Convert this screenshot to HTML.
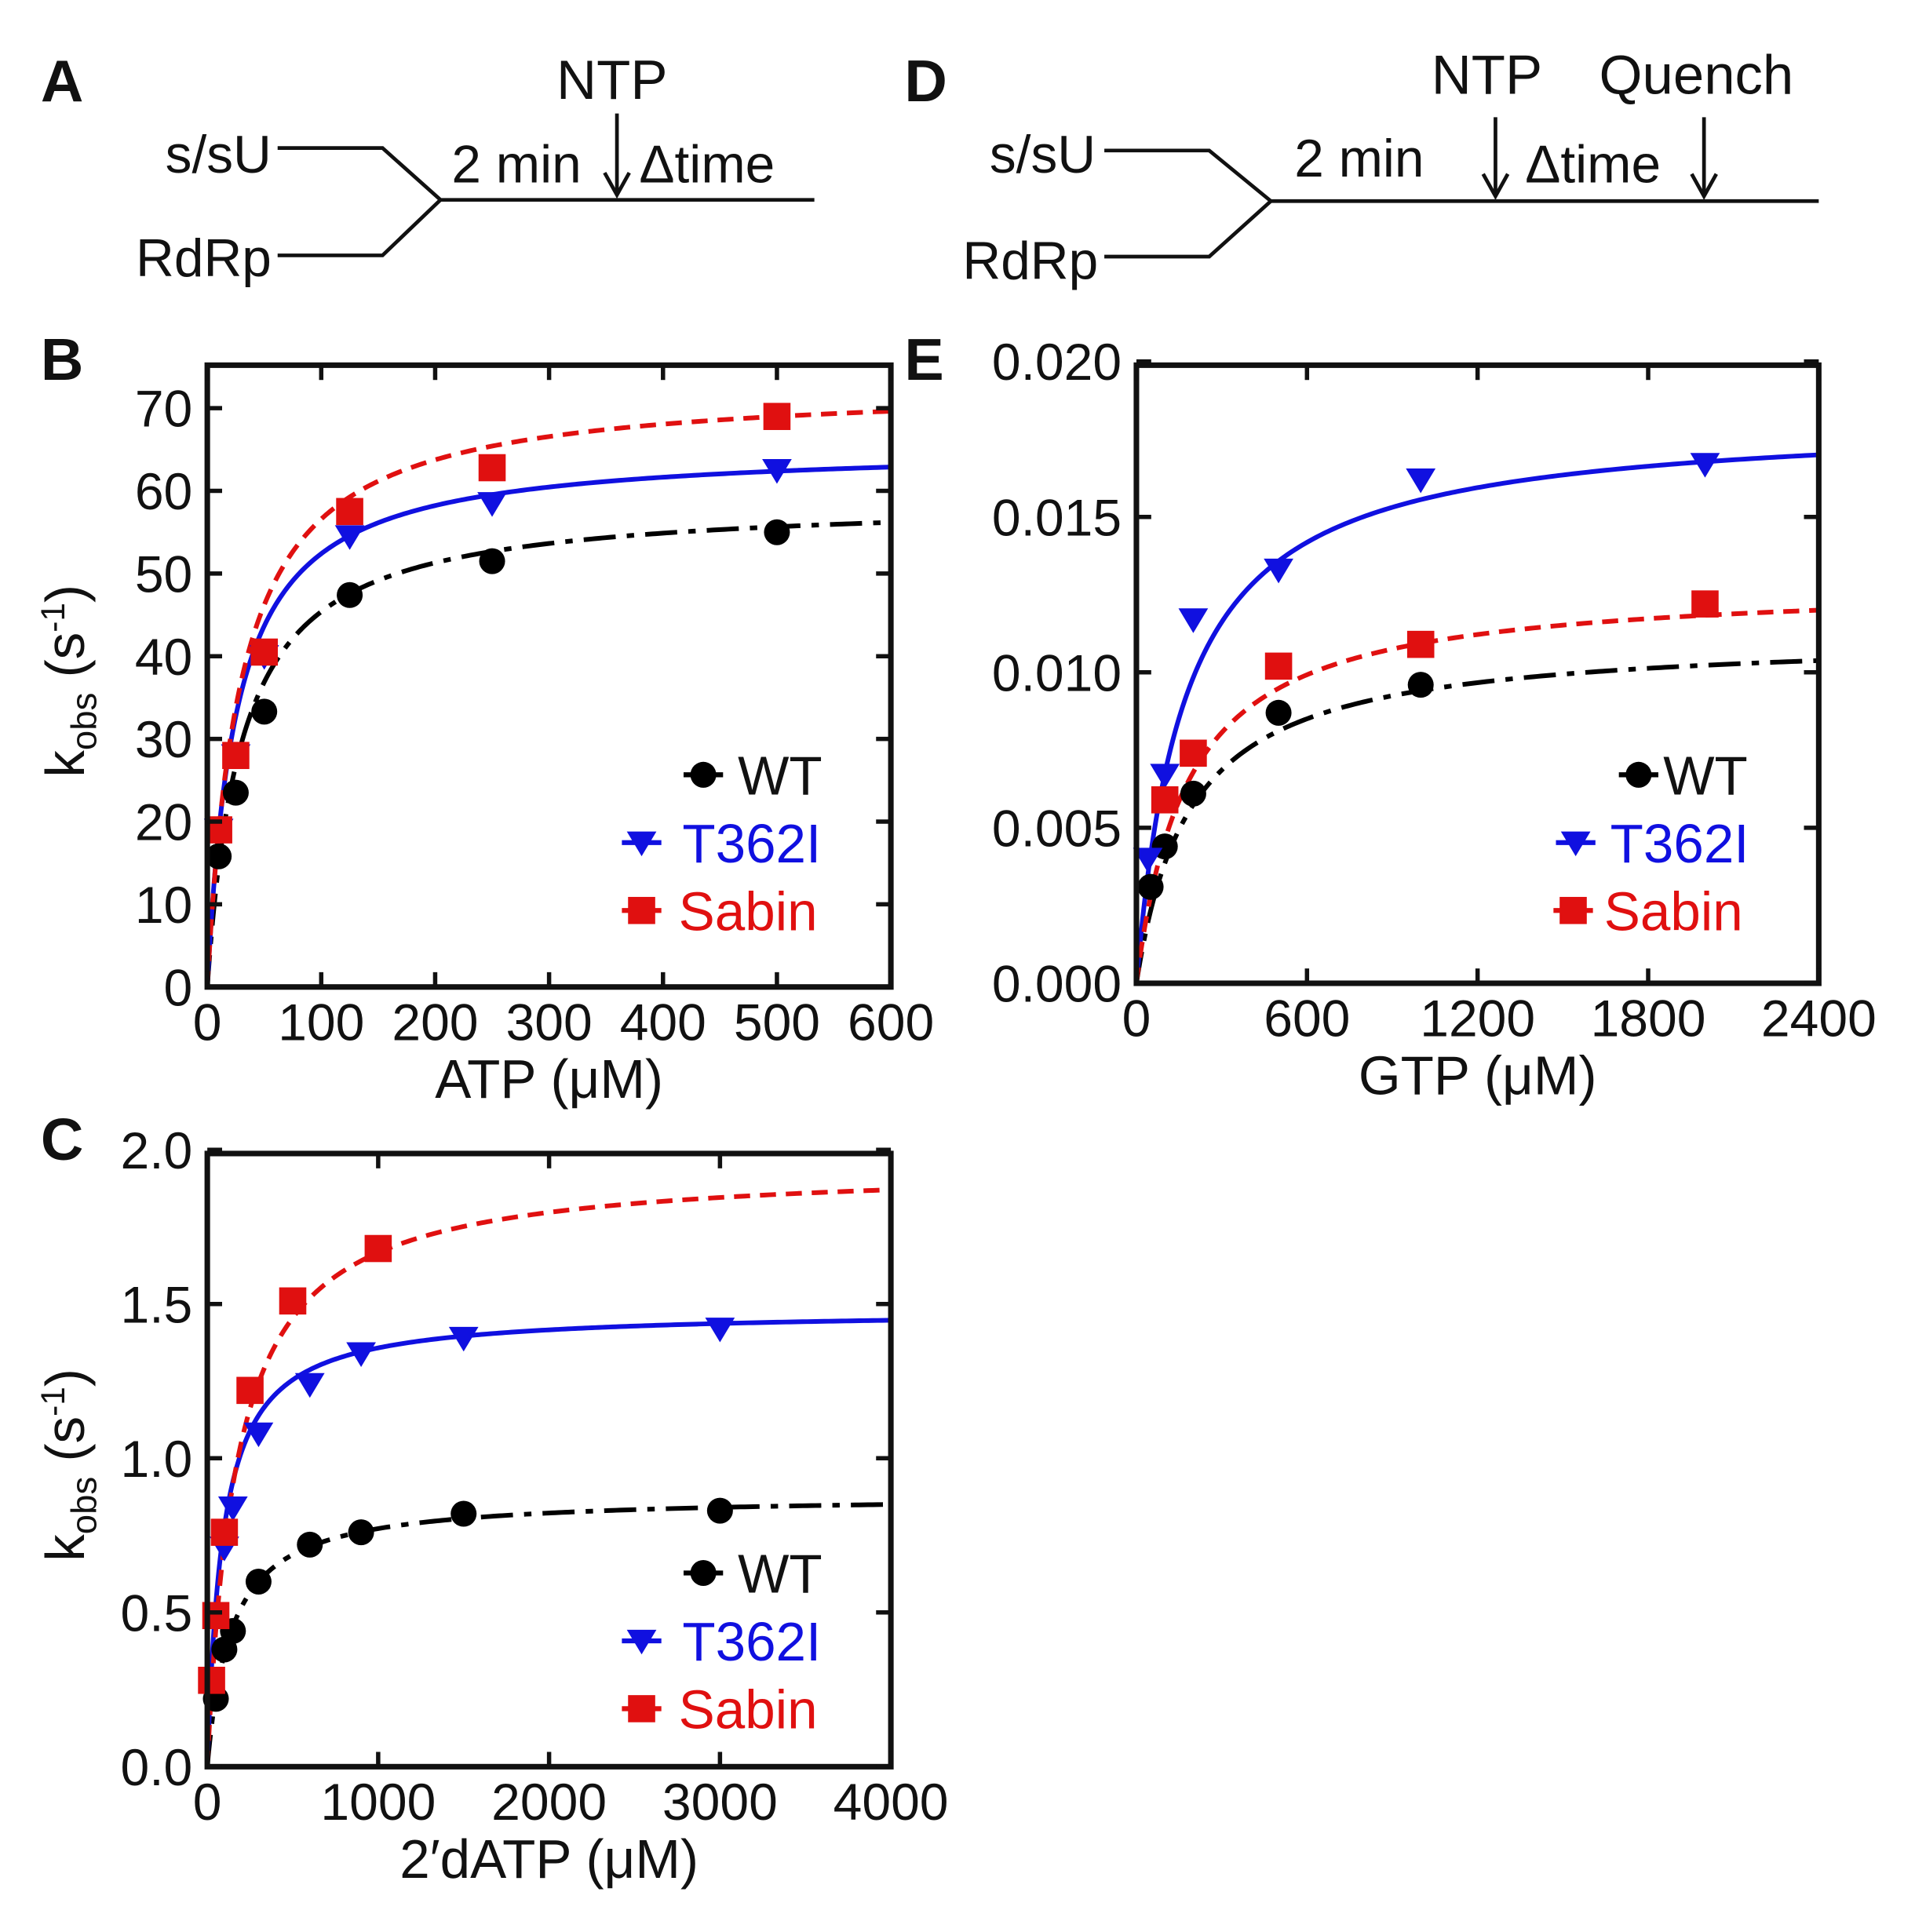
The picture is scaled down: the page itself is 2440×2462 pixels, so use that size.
<!DOCTYPE html>
<html><head><meta charset="utf-8"><style>
html,body{margin:0;padding:0;background:#fff}
svg{display:block}
text{font-family:"Liberation Sans",Arial,sans-serif;fill:#111}
</style></head><body>
<svg id="fig" width="2440" height="2462" viewBox="0 0 1552 1566" xmlns="http://www.w3.org/2000/svg">
<g stroke="#111" stroke-width="3" fill="none">
<polyline points="225,120 310,120 357,162 660,162"/><polyline points="225,207 310,207 357,162"/>
<line x1="500" y1="92" x2="500" y2="158"/><polyline points="490,140 500,158 510,140"/>
</g>
<text x="33" y="82" font-size="48" font-weight="bold">A</text>
<text x="451" y="80" font-size="45">NTP</text>
<text x="220" y="140" font-size="43" text-anchor="end">s/sU</text>
<text x="220" y="224" font-size="43" text-anchor="end">RdRp</text>
<text x="366" y="148" font-size="43">2 min</text>
<text x="518" y="148" font-size="43">Δtime</text>
<g stroke="#111" stroke-width="3" fill="none">
<polyline points="895,122 980,122 1030,163 1474,163"/><polyline points="895,208 980,208 1030,163"/>
<line x1="1212" y1="95" x2="1212" y2="159"/><polyline points="1202,141 1212,159 1222,141"/>
<line x1="1381" y1="95" x2="1381" y2="159"/><polyline points="1371,141 1381,159 1391,141"/>
</g>
<text x="733" y="82" font-size="48" font-weight="bold">D</text>
<text x="1160" y="76" font-size="45">NTP</text>
<text x="1296" y="76" font-size="45">Quench</text>
<text x="888" y="140" font-size="43" text-anchor="end">s/sU</text>
<text x="890" y="226" font-size="43" text-anchor="end">RdRp</text>
<text x="1049" y="143" font-size="43">2 min</text>
<text x="1236" y="148" font-size="43">Δtime</text>
<text x="33" y="308" font-size="48" font-weight="bold">B</text>
<text x="733" y="308" font-size="48" font-weight="bold">E</text>
<text x="33" y="940" font-size="48" font-weight="bold">C</text>
</svg>
<script>
// Panel B (ATP)
const bX = [10, 25, 50, 125, 250, 500];
const bWT = [15.8, 23.5, 33.3, 47.4, 51.5, 55.0];
const bT = [19, 28, 40, 54.5, 58.5, 62.5];
const bS = [19, 28, 40.5, 57.5, 62.8, 69.0];
const bFitKmax = [59, 65.5, 73];
const bFitKd = [30, 25, 29];
const bXTicks = [0, 100, 200, 300, 400, 500, 600];
const bYTicks = [0, 10, 20, 30, 40, 50, 60, 70];
// Panel C (2'dATP)
const cXWT = [50, 100, 150, 300, 600, 900, 1500, 3000];
const cWT = [0.22, 0.38, 0.44, 0.60, 0.72, 0.76, 0.82, 0.83];
const cXT = [100, 150, 300, 600, 900, 1500, 3000];
const cT = [0.71, 0.84, 1.08, 1.24, 1.34, 1.39, 1.42];
const cXS = [25, 50, 100, 250, 500, 1000];
const cS = [0.28, 0.49, 0.76, 1.22, 1.51, 1.68];
const cFitKmax = [0.88, 1.48, 1.95];
const cFitKd = [140, 90, 170];
const cXTicks = [0, 1000, 2000, 3000, 4000];
const cYTicks = [0, 0.5, 1.0, 1.5, 2.0];
// Panel E (GTP)
const eXWT = [50, 100, 200, 500, 1000];
const eWT = [0.0031, 0.0044, 0.0061, 0.0087, 0.0096];
const eXT = [40, 100, 200, 500, 1000, 2000];
const eT = [0.0040, 0.0067, 0.0117, 0.0133, 0.0162, 0.0167];
const eXS = [100, 200, 500, 1000, 2000];
const eS = [0.0059, 0.0074, 0.0102, 0.0109, 0.0122];
const eFitKmax = [0.0112, 0.0182, 0.0129];
const eFitKd = [190, 170, 180];
const eXTicks = [0, 600, 1200, 1800, 2400];
const eYTicks = [0, 0.005, 0.010, 0.015, 0.020];

const NS = 'http://www.w3.org/2000/svg';
const svg = document.getElementById('fig');
function mk(tag, attrs, parent) {
  const e = document.createElementNS(NS, tag);
  for (const k in attrs) e.setAttribute(k, attrs[k]);
  (parent || svg).appendChild(e);
  return e;
}
const COL = ['#000', '#1010e0', '#e01010'];
const DASH = ['26,9,6,9', '', '13,8'];
function marker(g, kind, x, y, col) {
  let m;
  if (kind === 0) m = mk('circle', {cx: x, cy: y, r: 10.5, fill: col}, g);
  else if (kind === 1) m = mk('path', {d: `M${x-12},${y-9} L${x+12},${y-9} L${x},${y+11} Z`, fill: col}, g);
  else m = mk('rect', {x: x-11, y: y-11, width: 22, height: 22, fill: col}, g);
  return m;
}
function panel(p) {
  const g = mk('g', {});
  
  
  const sx = v => p.x0 + (v - p.xmin) / (p.xmax - p.xmin) * (p.x1 - p.x0);
  const sy = v => p.y1 - (v - p.ymin) / (p.ymax - p.ymin) * (p.y1 - p.y0);
  for (let s = 0; s < 3; s++) {
    let d = '';
    for (let i = 0; i <= 300; i++) {
      const xv = p.xmin + (p.xmax - p.xmin) * Math.pow(i / 300, 2);
      const yv = p.kmax[s] * xv / (p.kd[s] + xv);
      d += (i ? 'L' : 'M') + sx(xv).toFixed(2) + ',' + sy(yv).toFixed(2);
    }
    const path = mk('path', {d, fill: 'none', stroke: COL[s], 'stroke-width': 3.8, 'stroke-dasharray': DASH[s] || 'none'}, g);
    
    
  }
  for (let s = 0; s < 3; s++) {
    const xs = p.xs[s], ys = p.ys[s];
    for (let i = 0; i < xs.length; i++) {
      const m = marker(g, s, sx(xs[i]), sy(ys[i]), COL[s]);
      
      
    }
  }
  const fr = mk('rect', {x: p.x0, y: p.y0, width: p.x1 - p.x0, height: p.y1 - p.y0, fill: 'none', stroke: '#111', 'stroke-width': 4.5}, g);
  
  
  for (const t of p.xt) {
    const x = sx(t);
    mk('line', {x1: x, y1: p.y1, x2: x, y2: p.y1 - 12, stroke: '#111', 'stroke-width': 3.5}, g);
    mk('line', {x1: x, y1: p.y0, x2: x, y2: p.y0 + 12, stroke: '#111', 'stroke-width': 3.5}, g);
    const tl = mk('text', {x: x, y: p.y1 + 43, 'font-size': 42, 'text-anchor': 'middle'}, g);
    tl.textContent = t;
    
    
  }
  for (const t of p.yt) {
    const y = sy(t);
    mk('line', {x1: p.x0, y1: y, x2: p.x0 + 12, y2: y, stroke: '#111', 'stroke-width': 3.5}, g);
    mk('line', {x1: p.x1, y1: y, x2: p.x1 - 12, y2: y, stroke: '#111', 'stroke-width': 3.5}, g);
    const tl = mk('text', {x: p.x0 - 12, y: y + 15, 'font-size': 42, 'text-anchor': 'end'}, g);
    tl.textContent = t.toFixed(p.dec);
    
    
  }
  const xt = mk('text', {x: (p.x0 + p.x1) / 2, y: p.y1 + 90, 'font-size': 44, 'text-anchor': 'middle'}, g);
  xt.innerHTML = p.xlabel;
  
  
  if (p.ytitle) {
    const cy = (p.y0 + p.y1) / 2;
    const yt = mk('text', {x: 0, y: 0, 'font-size': 44, 'text-anchor': 'middle', transform: `translate(${p.ytx},${cy + 4}) rotate(-90)`}, g);
    yt.innerHTML = 'k<tspan font-size="29" dy="10">obs</tspan><tspan dy="-10"> (s</tspan><tspan font-size="27" dy="-16">-1</tspan><tspan dy="16">)</tspan>';
    
    
  }
  const names = ['WT', 'T362I', 'Sabin'];
  for (let s = 0; s < 3; s++) {
    const ly = p.legY + s * 55;
    const lg = mk('g', {}, g);
    
    
    const mx = p.legMX[s];
    mk('line', {x1: mx - 16, y1: ly, x2: mx + 16, y2: ly, stroke: COL[s], 'stroke-width': 4}, lg);
    marker(lg, s, mx, ly, COL[s]);
    const lt = mk('text', {x: p.legTX[s], y: ly + 16, 'font-size': 44}, lg);
    lt.style.fill = COL[s] === '#000' ? '#111' : COL[s];
    lt.textContent = names[s];
  }
}
panel({name: 'panel-b-atp-chart', x0: 168, x1: 722, y0: 296, y1: 800, xmin: 0, xmax: 600, ymin: 0, ymax: 75.2, dec: 0,
  xs: [bX, bX, bX], ys: [bWT, bT, bS], kmax: bFitKmax, kd: bFitKd, series: ['wt', 't362i', 'sabin'],
  xt: bXTicks, yt: bYTicks, xlabel: 'ATP (μM)', ytitle: true, ytx: 68,
  legY: 628, legMX: [570, 520, 520], legTX: [598, 553, 550]});
panel({name: 'panel-c-2dATP-chart', x0: 168, x1: 722, y0: 935, y1: 1432, xmin: 0, xmax: 4000, ymin: 0, ymax: 1.988, dec: 1,
  xs: [cXWT, cXT, cXS], ys: [cWT, cT, cS], kmax: cFitKmax, kd: cFitKd, series: ['wt', 't362i', 'sabin'],
  xt: cXTicks, yt: cYTicks, xlabel: '2′dATP (μM)', ytitle: true, ytx: 68,
  legY: 1275, legMX: [570, 520, 520], legTX: [598, 553, 550]});
panel({name: 'panel-e-gtp-chart', x0: 921, x1: 1474, y0: 296, y1: 797, xmin: 0, xmax: 2400, ymin: 0, ymax: 0.01988, dec: 3,
  xs: [eXWT, eXT, eXS], ys: [eWT, eT, eS], kmax: eFitKmax, kd: eFitKd, series: ['wt', 't362i', 'sabin'],
  xt: eXTicks, yt: eYTicks, xlabel: 'GTP (μM)', ytitle: false,
  legY: 628, legMX: [1328, 1277, 1275], legTX: [1348, 1305, 1300]});
</script>
</body></html>
